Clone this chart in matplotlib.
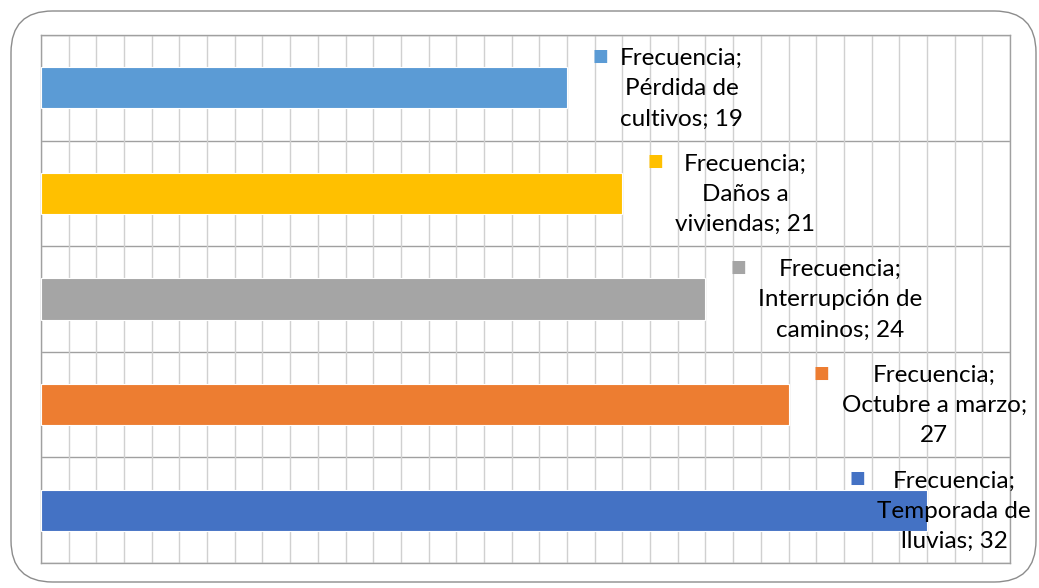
import matplotlib.pyplot as plt
from matplotlib.patches import FancyBboxPatch
from matplotlib.ticker import MultipleLocator

categorias = ['Pérdida de\ncultivos', 'Daños a\nviviendas', 'Interrupción de\ncaminos',
              'Octubre a marzo;\n', 'Temporada de\nlluvias']
frecuencia = [19, 21, 24, 27, 32]
colores = ['#5B9BD5', '#FFC000', '#A5A5A5', '#ED7D31', '#4472C4']
serie = 'Frecuencia'

W, H = 1039, 588
fig = plt.figure(figsize=(W / 100, H / 100), dpi=100)

# rounded chart border
border = FancyBboxPatch((11 / W, 6 / H), (1036 - 11) / W, (577 - 6) / H,
                        boxstyle='round,pad=0,rounding_size=0.04',
                        transform=fig.transFigure, fill=False,
                        edgecolor='#8C8C8C', linewidth=1.0, mutation_aspect=W / H)
fig.patches.append(border)

ax = fig.add_axes([41 / W, (H - 563) / H, (1010 - 41) / W, (563 - 35) / H])

y = list(range(len(frecuencia)))
ax.barh(y, frecuencia, height=0.39, color=colores, edgecolor='white', linewidth=0.8, zorder=3)

ax.set_xlim(0, 35)
ax.set_ylim(len(frecuencia) - 0.5, -0.5)
ax.xaxis.set_major_locator(MultipleLocator(5))
ax.xaxis.set_minor_locator(MultipleLocator(1))
ax.grid(axis='x', which='minor', color='#D0D0D0', linewidth=1.0, zorder=0)
ax.grid(axis='x', which='major', color='#A0A0A0', linewidth=1.0, zorder=0)
for b in range(len(frecuencia) + 1):
    ax.axhline(b - 0.5, color='#A0A0A0', linewidth=1.0, zorder=1)
ax.set_xticks([])
ax.set_yticks([])
ax.tick_params(which='both', length=0)
for s in ax.spines.values():
    s.set_color('#A0A0A0')
    s.set_linewidth(1.0)

# data labels: square key + multi-line text, kept inside the chart
fig.canvas.draw()
r = fig.canvas.get_renderer()
right_limit = 1031
for i, v in enumerate(frecuencia):
    cx, cy = ax.transData.transform((v, i))
    sep = '' if categorias[i].endswith('\n') else '; '
    txt = f'{serie};\n{categorias[i]}{sep}{v}'
    t = fig.text(0, 0, txt, fontsize=17.5, family='Lato', ha='left', va='center',
                 multialignment='center', linespacing=1.55, color='black', zorder=5)
    tx = cx + 53
    t.set_position((tx / W, (cy - 1) / H))
    bb = t.get_window_extent(renderer=r)
    if bb.x1 > right_limit:
        tx -= bb.x1 - right_limit
        t.set_position((tx / W, (cy - 1) / H))
    fig.text((tx - 20) / W, (cy + 32) / H, '■', fontsize=12, color=colores[i],
             ha='center', va='center', family='DejaVu Sans')

fig.savefig('out.png', dpi=100)
